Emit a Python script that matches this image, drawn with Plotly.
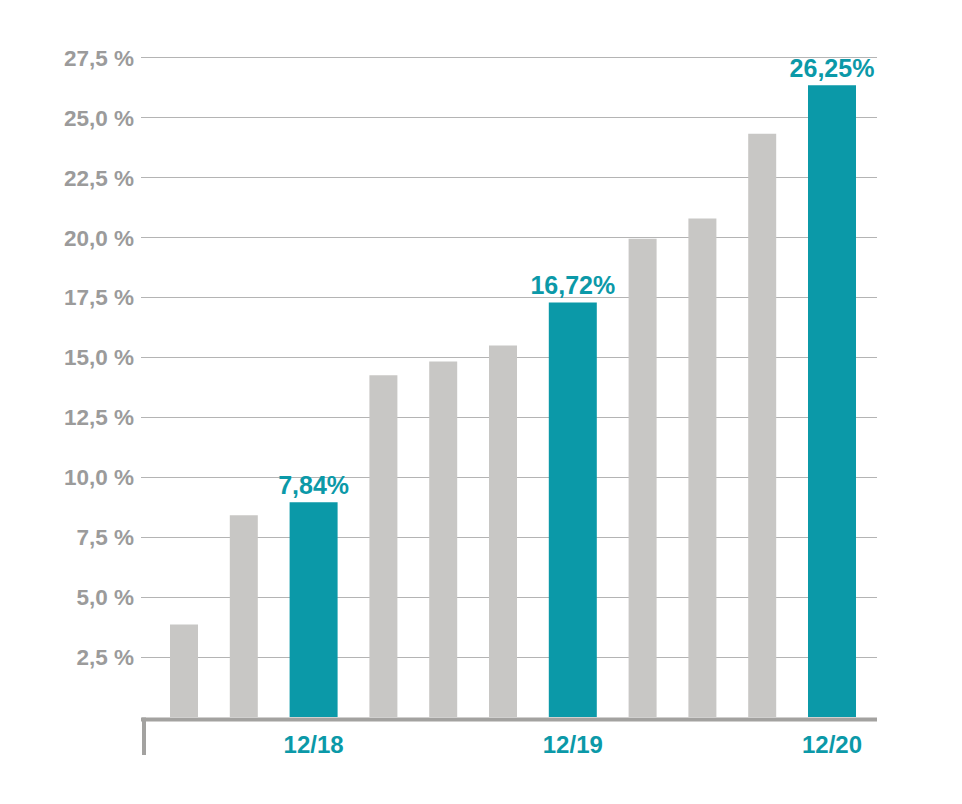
import plotly.graph_objects as go

# ---- data ----
values = [3.86, 8.42, 8.96, 14.26, 14.83, 15.50, 17.30, 19.96, 20.80, 24.34, 26.36]
value_labels = ["", "", "7,84%", "", "", "", "16,72%", "", "", "", "26,25%"]
highlight = [False, False, True, False, False, False, True, False, False, False, True]
period_labels = ["12/18", "12/19", "12/20"]
y_tick_values = [2.5, 5.0, 7.5, 10.0, 12.5, 15.0, 17.5, 20.0, 22.5, 25.0, 27.5]
y_tick_labels = ["2,5 %", "5,0 %", "7,5 %", "10,0 %", "12,5 %", "15,0 %",
                 "17,5 %", "20,0 %", "22,5 %", "25,0 %", "27,5 %"]

# ---- style ----
TEAL = "#0b99a8"
GREY_BAR = "#c8c7c5"
GREY_TEXT = "#9b9b9b"
GREY_AXIS = "#a3a2a0"
GRID = "#b4b4b4"
FONT = "Liberation Sans, Arial, Helvetica, sans-serif"
W_GREY, W_TEAL, GAP = 28, 48, 31.8

widths = [W_TEAL if h else W_GREY for h in highlight]
centers = []
pos = 0.0
for w in widths:
    centers.append(pos + w / 2)
    pos += w + GAP
colors = [TEAL if h else GREY_BAR for h in highlight]
tick_x = [c for c, h in zip(centers, highlight) if h]

fig = go.Figure(go.Bar(
    x=centers, y=values, width=widths,
    marker=dict(color=colors, line=dict(width=0)),
    text=value_labels, textposition="outside", cliponaxis=False,
    constraintext="none",
    textfont=dict(family=FONT, size=25, color=TEAL, weight="bold"),
    hoverinfo="skip",
))

fig.update_layout(
    width=962, height=804,
    margin=dict(l=133, r=93, t=26, b=95),
    paper_bgcolor="white", plot_bgcolor="white",
    showlegend=False,
    xaxis=dict(range=[-29, 707], tickvals=tick_x, ticktext=period_labels,
               showgrid=False, zeroline=False, showline=False, ticks="",
               ticklabelstandoff=11,
               tickfont=dict(family=FONT, size=24, color=TEAL, weight="bold")),
    yaxis=dict(range=[0, 28.5], tickvals=y_tick_values, ticktext=y_tick_labels,
               showgrid=True, gridcolor=GRID, gridwidth=1,
               zeroline=False, showline=False, ticks="",
               ticklabelstandoff=6,
               tickfont=dict(family=FONT, size=22.5, color=GREY_TEXT, weight="bold")),
    shapes=[
        dict(type="rect", xref="paper", x0=0, x1=1,
             yref="paper", ysizemode="pixel", yanchor=0, y0=-0.5, y1=-4.5,
             fillcolor=GREY_AXIS, line=dict(width=0), layer="above"),
        dict(type="rect", xref="paper", xsizemode="pixel", xanchor=0, x0=1, x1=5,
             yref="paper", ysizemode="pixel", yanchor=0, y0=-0.5, y1=-38,
             fillcolor=GREY_AXIS, line=dict(width=0), layer="above"),
    ],
)

fig.write_html("out.html")
